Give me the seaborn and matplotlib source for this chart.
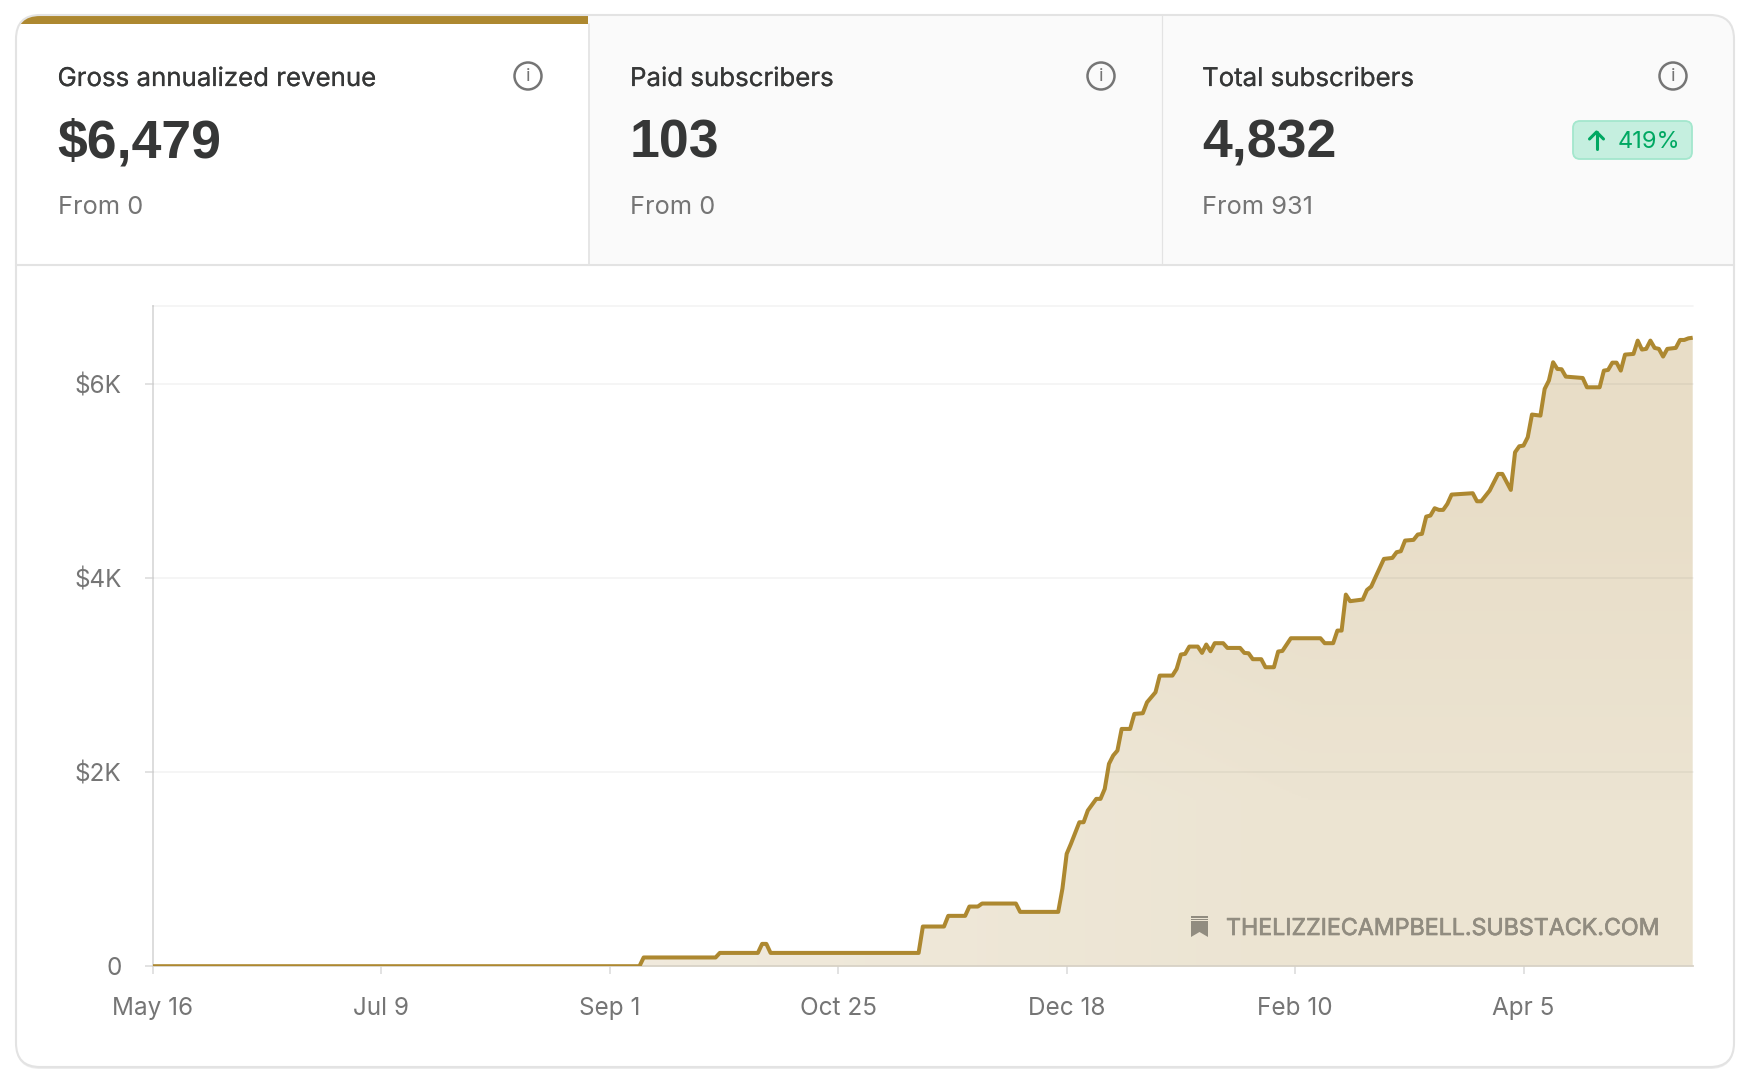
import numpy as np
import matplotlib
matplotlib.use("Agg")
import matplotlib.pyplot as plt
import matplotlib.dates as mdates
import matplotlib.patheffects as pe
from matplotlib.patches import FancyBboxPatch, Rectangle, Circle, Polygon
import pandas as pd
import seaborn as sns

start_date = "2022-05-16"
days = [0, 115, 116, 133, 134, 143, 144, 145, 146, 181, 182, 187, 188, 192, 193, 195, 196, 204, 205, 214,
        215, 216, 217, 219, 220, 221, 223, 224, 225, 226, 227, 228, 229, 231, 232, 234, 235, 237, 238, 241,
        242, 243, 244, 245, 247, 248, 249, 250, 251, 253, 254, 257, 258, 259, 260, 262, 263, 265, 266, 267,
        269, 276, 277, 279, 280, 281, 282, 283, 286, 287, 288, 289, 291, 293, 294, 295, 296, 298, 299, 300,
        301, 302, 303, 304, 305, 306, 307, 312, 313, 314, 316, 318, 319, 321, 322, 323, 324, 325, 326, 328,
        329, 330, 331, 332, 333, 334, 336, 338, 339, 342, 343, 344, 345, 346, 347, 348, 350, 351, 352, 353,
        354, 355, 356, 357, 358, 360, 361, 362, 363, 364]
revenue = [0, 0, 90, 90, 137, 137, 230, 230, 137, 137, 409, 409, 519, 519, 615, 615, 646, 646, 560, 560,
           800, 1158, 1261, 1484, 1484, 1605, 1725, 1725, 1828, 2086, 2172, 2223, 2446, 2446, 2601, 2608, 2721, 2824, 2996, 2996,
           3065, 3213, 3220, 3295, 3295, 3230, 3316, 3247, 3330, 3330, 3281, 3281, 3230, 3226, 3165, 3165, 3082, 3082, 3244, 3250,
           3381, 3381, 3330, 3330, 3460, 3460, 3831, 3763, 3780, 3879, 3914, 4010, 4199, 4209, 4268, 4278, 4388, 4395, 4450, 4457,
           4635, 4646, 4721, 4704, 4704, 4766, 4862, 4876, 4793, 4793, 4903, 5075, 5075, 4910, 5298, 5360, 5367, 5453, 5687, 5676,
           5951, 6037, 6226, 6157, 6154, 6078, 6071, 6064, 5968, 5968, 6140, 6147, 6222, 6222, 6140, 6305, 6312, 6449, 6357, 6364,
           6449, 6374, 6364, 6285, 6364, 6374, 6456, 6456, 6473, 6479]

x_tick_days = [0, 54, 108, 162, 216, 270, 324]
x_tick_labels = ["May 16", "Jul 9", "Sep 1", "Oct 25", "Dec 18", "Feb 10", "Apr 5"]
y_ticks = [0, 2000, 4000, 6000]
y_tick_labels = ["0", "$2K", "$4K", "$6K"]
y_top = 6804

card_titles = ["Gross annualized revenue", "Paid subscribers", "Total subscribers"]
card_values = ["$6,479", "103", "4,832"]
card_froms = ["From 0", "From 0", "From 931"]

GOLD = "#ad8830"
DARK = "#363737"
GREY = "#757575"
BORDER = "#e3e3e3"
MARK = "#918c80"
W, H = 1748, 1082

sns.set_theme(style="white")
plt.rcParams["font.family"] = ["Inter", "DejaVu Sans"]

fig = plt.figure(figsize=(W / 100, H / 100), dpi=100, facecolor="white")

# background layer in pixel coordinates
bg = fig.add_axes([0, 0, 1, 1], zorder=0)
bg.set_xlim(0, W)
bg.set_ylim(H, 0)
bg.axis("off")

shadow = FancyBboxPatch((16, 17), 1718, 1052, boxstyle="round,pad=0,rounding_size=24",
                        fc="#ededed", ec="none", zorder=0)
bg.add_patch(shadow)
card = FancyBboxPatch((16, 15), 1718, 1052, boxstyle="round,pad=0,rounding_size=24",
                      fc="white", ec="none", zorder=1)
bg.add_patch(card)

header = Rectangle((588, 15), 1146, 250, fc="#fafafa", ec="none", zorder=2)
bg.add_patch(header)
header.set_clip_path(card)
bar = Rectangle((16, 15), 572, 9, fc=GOLD, ec="none", zorder=3)
bg.add_patch(bar)
bar.set_clip_path(card)

bg.plot([16, 1734], [265, 265], color=BORDER, lw=1.5, zorder=4)
bg.plot([588.5, 588.5], [24, 265], color=BORDER, lw=1.2, zorder=4)
bg.plot([1161.5, 1161.5], [15, 265], color=BORDER, lw=0.9, zorder=4)
bg.add_patch(FancyBboxPatch((16, 15), 1718, 1052, boxstyle="round,pad=0,rounding_size=24",
                            fc="none", ec=BORDER, lw=1.5, zorder=5))

text_x = [57.5, 630, 1202]
info_x = [528, 1101, 1673]
for tx, ix, title, value, since in zip(text_x, info_x, card_titles, card_values, card_froms):
    bg.text(tx, 86, title, fontsize=18.6, color=DARK, va="baseline", zorder=6,
            path_effects=[pe.withStroke(linewidth=0.15, foreground=DARK)])
    bg.text(tx, 157.5, value, fontsize=38.6, fontweight="bold", family=["Liberation Sans", "DejaVu Sans"],
            color=DARK, va="baseline", zorder=6)
    bg.text(tx, 214, since, fontsize=18.3, color=GREY, va="baseline", zorder=6)
    bg.add_patch(Circle((ix, 76), 13.5, fc="none", ec=GREY, lw=1.8, zorder=6))
    bg.text(ix, 76.5, "i", fontsize=13.5, color=GREY, ha="center", va="center", zorder=6)

# +419% badge
bg.add_patch(FancyBboxPatch((1573, 121), 119, 38, boxstyle="round,pad=0,rounding_size=7",
                            fc="#c5efdf", ec="#a3e7cd", lw=1.3, zorder=6))
bg.plot([1596.5, 1596.5], [132, 149], color="#00a862", lw=2.2, zorder=7, solid_capstyle="round")
bg.plot([1589.5, 1596.5, 1603.5], [139, 132, 139], color="#00a862", lw=2.2, zorder=7,
        solid_capstyle="round", solid_joinstyle="round")
bg.text(1618, 148, "419%", fontsize=17, color="#00a862", va="baseline", zorder=7)

# the chart itself
dates = pd.Timestamp(start_date) + pd.to_timedelta(days, unit="D")
df = pd.DataFrame({"date": dates, "revenue": revenue})
x_ticks = pd.Timestamp(start_date) + pd.to_timedelta(x_tick_days, unit="D")

ax = fig.add_axes([153 / W, 1 - 966.2 / H, (1692.7 - 153) / W, (966.2 - 306.2) / H], zorder=1)
ax.patch.set_alpha(0)

x0, x1 = mdates.date2num(dates[0]), mdates.date2num(dates[-1])
poly = ax.fill_between(df["date"], df["revenue"], 0, color="none", lw=0)
corners = np.array([[[0xec, 0xe4, 0xd3], [0xe8, 0xdd, 0xc7]],
                    [[0xf1, 0xeb, 0xde], [0xec, 0xe4, 0xd2]]], dtype=np.uint8)
grad = ax.imshow(corners, extent=[x0, x1, 0, y_top], aspect="auto", interpolation="bilinear", zorder=1)
grad.set_clip_path(poly.get_paths()[0], transform=ax.transData)

sns.lineplot(data=df, x="date", y="revenue", ax=ax, color=GOLD, linewidth=2.9, zorder=4,
             solid_joinstyle="round", solid_capstyle="butt", errorbar=None, estimator=None)

ax.set_xlim(x0, x1)
ax.set_ylim(0, y_top)
ax.set_xlabel("")
ax.set_ylabel("")
ax.set_xticks(x_ticks)
ax.set_xticklabels(x_tick_labels)
ax.set_yticks(y_ticks)
ax.set_yticklabels(y_tick_labels)
ax.tick_params(axis="both", length=5.5, width=1.1, color="#dadada", labelcolor=GREY, labelsize=17.5, left=True, bottom=True)
ax.tick_params(axis="x", pad=17)
ax.tick_params(axis="y", pad=17)

for y in y_ticks[1:] + [y_top]:
    ax.axhline(y, color="black", alpha=0.045, lw=1.3, zorder=3, clip_on=False)

for side in ["top", "right"]:
    ax.spines[side].set_visible(False)
for side in ["left", "bottom"]:
    ax.spines[side].set_color("#d8d2c6" if side == "bottom" else "#dadada")
    ax.spines[side].set_linewidth(1.3)
    ax.spines[side].set_zorder(2)

# watermark sits on top of the fill, placed in pixels
ax.add_patch(Polygon([[1191, 921], [1208, 921], [1208, 937], [1199.5, 932], [1191, 937]], closed=True,
                     fc=MARK, ec="none", transform=bg.transData, zorder=6, clip_on=False))
ax.add_patch(Rectangle((1191, 916), 17, 2, fc=MARK, ec="none", transform=bg.transData, zorder=6, clip_on=False))
ax.add_patch(Rectangle((1191, 919), 17, 1, fc=MARK, ec="none", transform=bg.transData, zorder=6, clip_on=False))
ax.text(1226, 935, "THELIZZIECAMPBELL.SUBSTACK.COM", fontsize=16.7, color=MARK,
        transform=bg.transData, va="baseline", zorder=6, clip_on=False,
        path_effects=[pe.withStroke(linewidth=0.5, foreground=MARK)])

fig.savefig("out.png", dpi=100)
